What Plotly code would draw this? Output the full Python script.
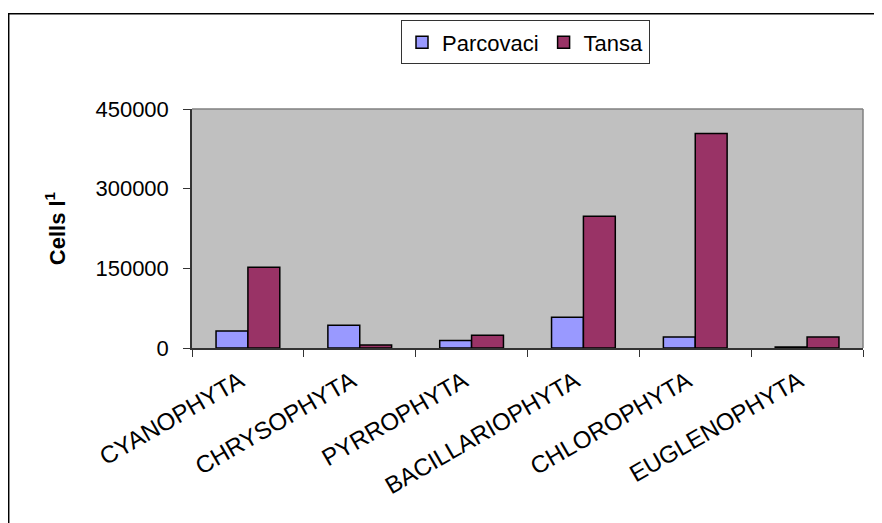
import plotly.graph_objects as go

categories = ["CYANOPHYTA", "CHRYSOPHYTA", "PYRROPHYTA", "BACILLARIOPHYTA", "CHLOROPHYTA", "EUGLENOPHYTA"]
parcovaci = [32000, 43000, 14000, 58000, 20500, 2000]
tansa = [152000, 5500, 24000, 248000, 404000, 20500]
y_ticks = [0, 150000, 300000, 450000]

# the page has an 8px body margin, so the figure starts at page (8, 8)
OFF = 8
W, H = 882 - OFF, 523 - OFF
L, R, T, B = 192 - OFF, 19, 107 - OFF, 523 - 348
pw = W - L - R
ph = H - T - B

def px(x):  # page x -> paper
    return (x - OFF - L) / pw

def py(y):  # page y -> paper
    return (H - B - (y - OFF)) / ph

FONT = "Liberation Sans, Arial, sans-serif"

fig = go.Figure()
fig.add_trace(go.Bar(x=categories, y=parcovaci, name="Parcovaci",
                     marker=dict(color="#9999FF", line=dict(color="black", width=1.5))))
fig.add_trace(go.Bar(x=categories, y=tansa, name="Tansa",
                     marker=dict(color="#993366", line=dict(color="black", width=1.5))))

fig.update_layout(
    width=W, height=H,
    margin=dict(l=L, r=R, t=T, b=B, pad=0),
    paper_bgcolor="white",
    plot_bgcolor="#C0C0C0",
    barmode="group",
    bargap=0.43,
    bargroupgap=0,
    font=dict(family=FONT, size=22, color="black"),
    legend=dict(
        orientation="h",
        x=px(401), y=py(62), xanchor="left", yanchor="bottom",
        bgcolor="white", bordercolor="#333333", borderwidth=1,
        font=dict(size=22, family=FONT),
        itemwidth=30,
        tracegroupgap=0,
    ),
    xaxis=dict(
        type="category",
        tickson="boundaries",
        ticks="outside", ticklen=7, tickcolor="#333333",
        ticklabelstandoff=8,
        ticklabelshift=-8,
        showline=True, linecolor="#333333", linewidth=1.5,
        tickangle=-30,
        tickfont=dict(size=24, family=FONT),
        showgrid=False,
    ),
    yaxis=dict(
        range=[0, 450000],
        tickvals=y_ticks,
        tickformat="d",
        ticks="outside", ticklen=7, tickcolor="#333333",
        ticklabelstandoff=10,
        showline=True, linecolor="#333333", linewidth=1.5,
        showgrid=False, zeroline=False,
        tickfont=dict(size=22, family=FONT),
        title=dict(text="<b>Cells l<sup>1</sup></b>", font=dict(size=22, family=FONT), standoff=24),
    ),
    shapes=[
        dict(type="line", xref="paper", yref="paper", x0=0, x1=1, y0=1, y1=1,
             line=dict(color="#808080", width=1.5)),
        dict(type="line", xref="paper", yref="paper", x0=1, x1=1, y0=0, y1=1,
             line=dict(color="#808080", width=1.5)),
        dict(type="rect", xref="paper", yref="paper",
             x0=px(8.7), x1=px(900), y0=py(540), y1=py(11),
             line=dict(color="black", width=1.5), fillcolor="rgba(0,0,0,0)"),
    ],
)

fig.write_html("out.html")
